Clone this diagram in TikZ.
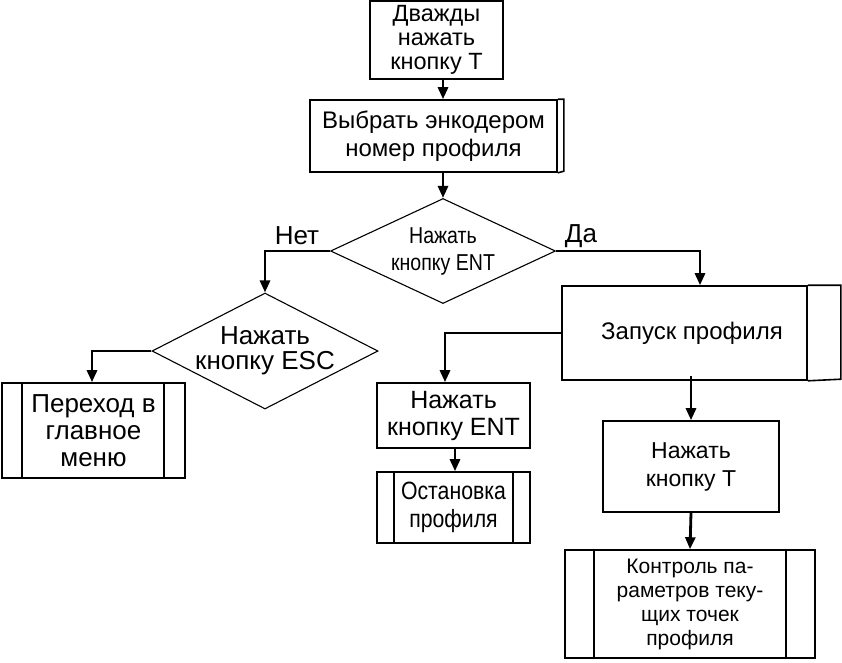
\documentclass[tikz,border=0pt]{standalone}
\usepackage{fontspec}
\setmainfont{Liberation Sans}
\newfontfamily\narrowfont[FakeStretch=0.85]{Liberation Sans}
\usetikzlibrary{shapes.geometric,arrows.meta}

\tikzset{
  block/.style={rectangle, draw, line width=1.6pt, align=center, inner sep=0pt,
    font=\fontsize{23.5}{24}\selectfont},
  decision/.style={diamond, draw, line width=1.1pt, align=center, inner sep=-3pt,
    aspect=1.95, font=\fontsize{26}{25}\selectfont},
  arr/.style={-{Triangle[length=12pt,width=10pt]}, line width=2.8pt},
  inner/.style={line width=1.6pt},
}

\begin{document}
\begin{tikzpicture}[x=1pt, y=-1pt]
  \useasboundingbox (0,0) rectangle (842,662);

  % Start
  \node[block, minimum width=133, minimum height=78] (start) at (436.5,40) {Дважды\\нажать\\кнопку Т};
  \node[block, minimum width=247, minimum height=72, font=\fontsize{24}{28}\selectfont] (select) at (433.5,136) {Выбрать энкодером\\номер профиля};
  \draw[inner] (select.north east) -- ++(6,0) -- ++(0,72) -- (select.south east);

  % First question
  \node[decision, minimum width=225, minimum height=105, font=\narrowfont\fontsize{23}{27}\selectfont] (choice) at (443,251)
    {Нажать\\кнопку ENT};
  \node[font=\fontsize{26}{26}\selectfont] (no) at (297,236) {Нет};
  \node[font=\fontsize{26}{26}\selectfont] (yes) at (581,236) {Да};

  % Left branch
  \node[decision, minimum width=226, minimum height=116] (esc) at (265,351) {Нажать\\кнопку ESC};
  \node[block, minimum width=183, minimum height=95, font=\fontsize{26}{27}\selectfont] (menu) at (93.5,430.5) {Переход в\\главное\\меню};
  \draw[inner] ([xshift=21]menu.north west) -- ([xshift=21]menu.south west);
  \draw[inner] ([xshift=-22]menu.north east) -- ([xshift=-22]menu.south east);

  % Right branch
  \node[block, minimum width=245, minimum height=94, font=\fontsize{24}{24}\selectfont] (run) at (684.5,333) {\hspace*{15pt}Запуск профиля};
  \draw[inner] (run.north east) -- ++(33,0) -- ++(0,94) -- (run.south east);

  \node[block, minimum width=153, minimum height=65, font=\fontsize{25}{27}\selectfont] (ent) at (453.5,415.5) {Нажать\\кнопку ENT};
  \node[block, minimum width=153, minimum height=71, font=\narrowfont\fontsize{25}{28}\selectfont] (stop) at (453.5,507.5) {Остановка\\профиля};
  \draw[inner] ([xshift=18]stop.north west) -- ([xshift=18]stop.south west);
  \draw[inner] ([xshift=-18]stop.north east) -- ([xshift=-18]stop.south east);

  \node[block, minimum width=176, minimum height=91, font=\fontsize{23}{28}\selectfont] (presst) at (691,466.5) {Нажать\\кнопку Т};
  \node[block, minimum width=250, minimum height=108, font=\fontsize{21}{24}\selectfont] (ctrl) at (690,604) {Контроль па-\\раметров теку-\\щих точек\\профиля};
  \draw[inner] ([xshift=30]ctrl.north west) -- ([xshift=30]ctrl.south west);
  \draw[inner] ([xshift=-30]ctrl.north east) -- ([xshift=-30]ctrl.south east);

  % Edges
  \draw[arr] (start.south -| choice) -- (select.north -| choice);
  \draw[arr] (select.south -| choice) -- (choice.north);
  \draw[arr] (choice.west) -| (esc.north);
  \draw[arr] (choice.east) -| ([xshift=15.5]run.north);
  \draw[arr] (esc.west) -| ([xshift=-1.5]menu.north);
  \draw[arr] (run.west) -| ([xshift=-8.5]ent.north);
  \draw[arr] ([xshift=1.5]ent.south) -- ([xshift=1.5]stop.north);
  \draw[arr] ([yshift=5]presst.north |- run.south) -- (presst.north);
  \draw[arr] (presst.south) -- (ctrl.north);

\end{tikzpicture}
\end{document}
